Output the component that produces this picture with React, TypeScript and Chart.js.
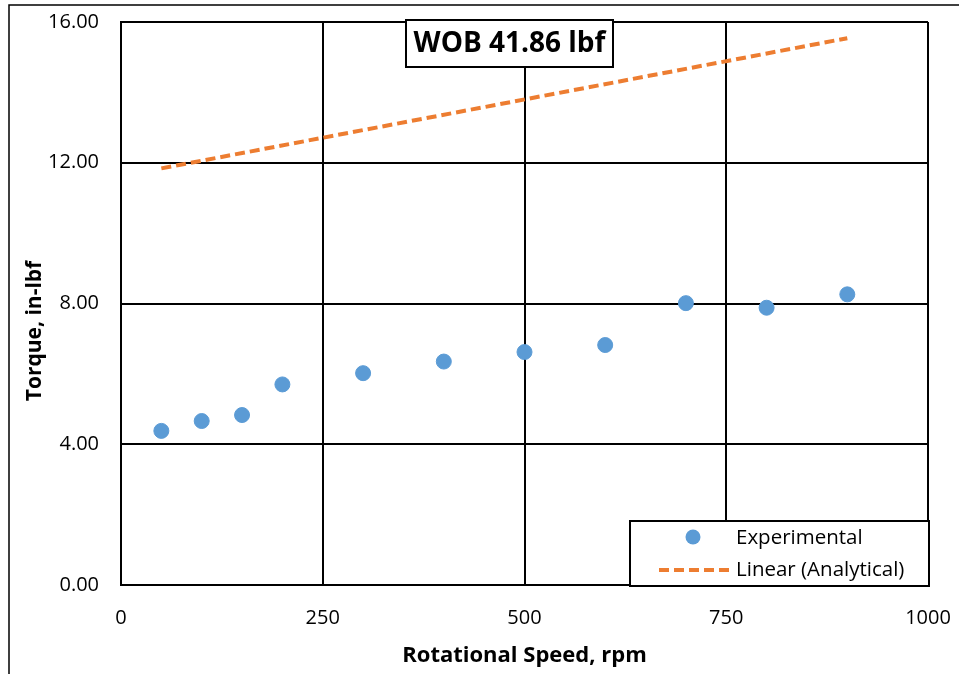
import React, { useEffect, useRef } from "react";
import { Chart, registerables } from "chart.js";

Chart.register(...registerables);

const speeds = [50, 100, 150, 200, 300, 400, 500, 600, 700, 800, 900];
const torqueExperimental = [4.38, 4.66, 4.83, 5.7, 6.02, 6.35, 6.62, 6.82, 8.01, 7.88, 8.26];
const linearSpeeds = [50, 900];
const torqueAnalytical = [11.84, 15.54];
const titleText = "WOB 41.86 lbf";
const xAxisTitle = "Rotational Speed, rpm";
const yAxisTitle = "Torque, in-lbf";
const legendLabels = ["Experimental", "Linear (Analytical)"];

const BLUE = "#5B9BD5";
const ORANGE = "#ED7D31";
const FONT = "'Open Sans', 'Liberation Sans', sans-serif";

export default function App() {
  const ref = useRef<HTMLCanvasElement | null>(null);

  useEffect(() => {
    if (!ref.current) return;
    const overlay = {
      id: "overlay",
      afterDraw(chart: any) {
        const ctx = chart.ctx;
        const area = chart.chartArea;
        ctx.save();
        // outer border
        ctx.strokeStyle = "#000";
        ctx.lineWidth = 1.5;
        ctx.beginPath();
        ctx.moveTo(9, 674);
        ctx.lineTo(9, 5);
        ctx.lineTo(959, 5);
        ctx.stroke();

        // axis titles
        ctx.fillStyle = "#000";
        ctx.textAlign = "center";
        ctx.textBaseline = "middle";
        ctx.font = `bold 22px ${FONT}`;
        ctx.fillText(xAxisTitle, (area.left + area.right) / 2, 656);
        ctx.save();
        ctx.font = `bold 21px ${FONT}`;
        ctx.translate(35, 331);
        ctx.rotate(-Math.PI / 2);
        ctx.fillText(yAxisTitle, 0, 0);
        ctx.restore();

        // title box
        ctx.fillStyle = "#fff";
        ctx.fillRect(406, 20, 207, 47);
        ctx.strokeStyle = "#000";
        ctx.lineWidth = 2;
        ctx.strokeRect(406, 20, 207, 47);
        ctx.fillStyle = "#000";
        ctx.font = `bold 28px ${FONT}`;
        ctx.fillText(titleText, 509.5, 44, 198);

        // legend
        ctx.fillStyle = "#fff";
        ctx.fillRect(630, 521, 299, 65);
        ctx.strokeStyle = "#000";
        ctx.lineWidth = 2;
        ctx.strokeRect(630, 521, 299, 65);
        ctx.fillStyle = BLUE;
        ctx.beginPath();
        ctx.arc(693, 537, 7.5, 0, Math.PI * 2);
        ctx.fill();
        ctx.strokeStyle = ORANGE;
        ctx.lineWidth = 4;
        ctx.setLineDash([10, 5]);
        ctx.beginPath();
        ctx.moveTo(659, 570);
        ctx.lineTo(730, 570);
        ctx.stroke();
        ctx.setLineDash([]);
        ctx.fillStyle = "#000";
        ctx.font = `20.5px ${FONT}`;
        ctx.textAlign = "left";
        ctx.fillText(legendLabels[0], 736, 538);
        ctx.fillText(legendLabels[1], 736, 570);
        ctx.restore();
      },
    };

    const chart = new Chart(ref.current, {
      type: "scatter",
      data: {
        datasets: [
          {
            label: legendLabels[1],
            data: linearSpeeds.map((x, i) => ({ x, y: torqueAnalytical[i] })),
            showLine: true,
            borderColor: ORANGE,
            borderWidth: 4,
            borderDash: [10, 5],
            pointRadius: 0,
            order: 2,
          },
          {
            label: legendLabels[0],
            data: speeds.map((x, i) => ({ x, y: torqueExperimental[i] })),
            backgroundColor: BLUE,
            borderColor: BLUE,
            pointRadius: 7.5,
            pointHoverRadius: 7.5,
            order: 1,
          },
        ],
      },
      options: {
        animation: false,
        responsive: false,
        maintainAspectRatio: false,
        layout: { padding: { top: 22, right: 31, left: 0, bottom: 0 } },
        plugins: { legend: { display: false }, tooltip: { enabled: false } },
        scales: {
          x: {
            type: "linear",
            min: 0,
            max: 1000,
            afterFit: (s: any) => {
              s.height = 89;
              s.paddingLeft = 0;
              s.paddingRight = 0;
            },
            ticks: {
              stepSize: 250,
              padding: 21,
              color: "#000",
              font: { family: FONT, size: 20 },
              callback: (v: any) => String(v),
            },
            grid: { color: "#000", lineWidth: 2, drawTicks: false },
            border: { color: "#000", width: 2 },
          },
          y: {
            type: "linear",
            min: 0,
            max: 16,
            afterFit: (s: any) => {
              s.width = 121;
              s.paddingTop = 0;
              s.paddingBottom = 0;
            },
            ticks: {
              stepSize: 4,
              padding: 22,
              color: "#000",
              font: { family: FONT, size: 20 },
              callback: (v: any) => Number(v).toFixed(2),
            },
            grid: { color: "#000", lineWidth: 2, drawTicks: false },
            border: { color: "#000", width: 2 },
          },
        },
      },
      plugins: [overlay],
    });
    return () => chart.destroy();
  }, []);

  return (
    <div style={{ position: "fixed", left: 0, top: 0, width: 959, height: 674, background: "#fff" }}>
      <canvas ref={ref} width={959} height={674} style={{ width: 959, height: 674 }} />
    </div>
  );
}
